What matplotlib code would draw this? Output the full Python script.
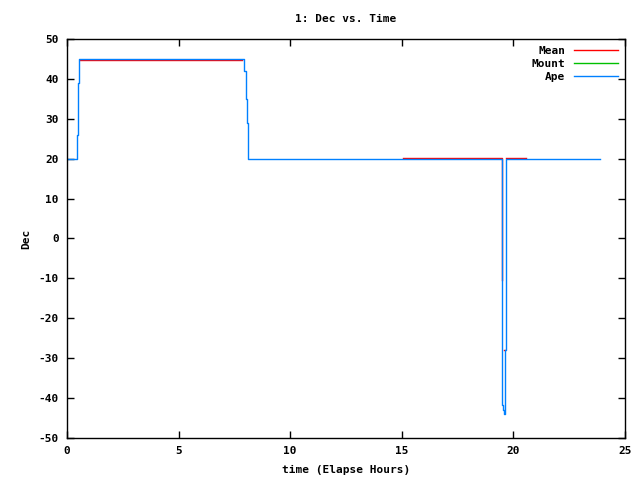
import numpy as np
import matplotlib
matplotlib.use("Agg")
import matplotlib.pyplot as plt

nan = np.nan
# Mean (red)
mean_t = [0.58, 7.83, 7.84, 15.07, 19.47, 19.505, 19.595, 19.64, 19.67, 20.55]
mean_v = [44.7, 44.7, nan, 20.3, -10.4, nan, -28.0, nan, 20.3, 20.3]
# Mount (green)
mount_t = [0.0, 0.45, 0.51, 0.55, 7.95, 8.01, 8.06, 8.11, 8.13, 19.474, 19.504, 19.549, 19.594, 19.63, 19.655, 19.684, 23.88]
mount_v = [20.0, 26.0, 39.0, 45.0, 42.0, 35.0, 29.0, 23.0, 20.0, -10.4, -41.7, -43.0, -44.0, -28.0, 4.2, 20.0, 20.0]
# Ape (blue)
ape_t = [0.0, 0.45, 0.51, 0.55, 7.94, 8.0, 8.05, 8.1, 8.12, 19.474, 19.504, 19.549, 19.594, 19.63, 19.655, 19.684, 23.88]
ape_v = [20.0, 26.0, 39.0, 45.0, 42.0, 35.0, 29.0, 23.0, 20.0, -10.4, -41.7, -43.0, -44.0, -28.0, 4.2, 20.0, 20.0]

xticks = [0, 5, 10, 15, 20, 25]
yticks = [-50, -40, -30, -20, -10, 0, 10, 20, 30, 40, 50]

plt.rcParams['font.family'] = ['DejaVu Sans Mono']
plt.rcParams['font.weight'] = 'bold'
plt.rcParams['font.size'] = 8
plt.rcParams['axes.unicode_minus'] = False

fig = plt.figure(figsize=(6.4, 4.8), dpi=100)
ax = fig.add_axes([67/640, 42/480, (625-67)/640, (438-39)/480])

ax.plot(mean_t, mean_v, color='#ff0000', lw=1.0, drawstyle='steps-post', label='Mean')
ax.plot(mount_t, mount_v, color='#00c000', lw=0.7, drawstyle='steps-post', label='Mount')
ax.plot(ape_t, ape_v, color='#0080ff', lw=1.0, drawstyle='steps-post', label='Ape')

ax.set_xlim(0, 25)
ax.set_ylim(-50, 50)
ax.set_xticks(xticks)
ax.set_yticks(yticks)
ax.tick_params(direction='in', top=True, right=True, length=5, width=1, labelsize=8, pad=6)
for s in ax.spines.values():
    s.set_linewidth(1)

ax.set_title('1: Dec vs. Time', fontsize=8, fontweight='bold', pad=12)
ax.set_xlabel('time (Elapse Hours)', fontsize=8, fontweight='bold', labelpad=6)
ax.set_ylabel('Dec', fontsize=8, fontweight='bold', labelpad=5)

leg = ax.legend(loc='upper right', frameon=False, markerfirst=False, fontsize=8,
                handlelength=4, labelspacing=0.3, borderaxespad=0.2)
for h in leg.get_lines():
    h.set_linewidth(1.0)

fig.savefig('out.png', dpi=100)
